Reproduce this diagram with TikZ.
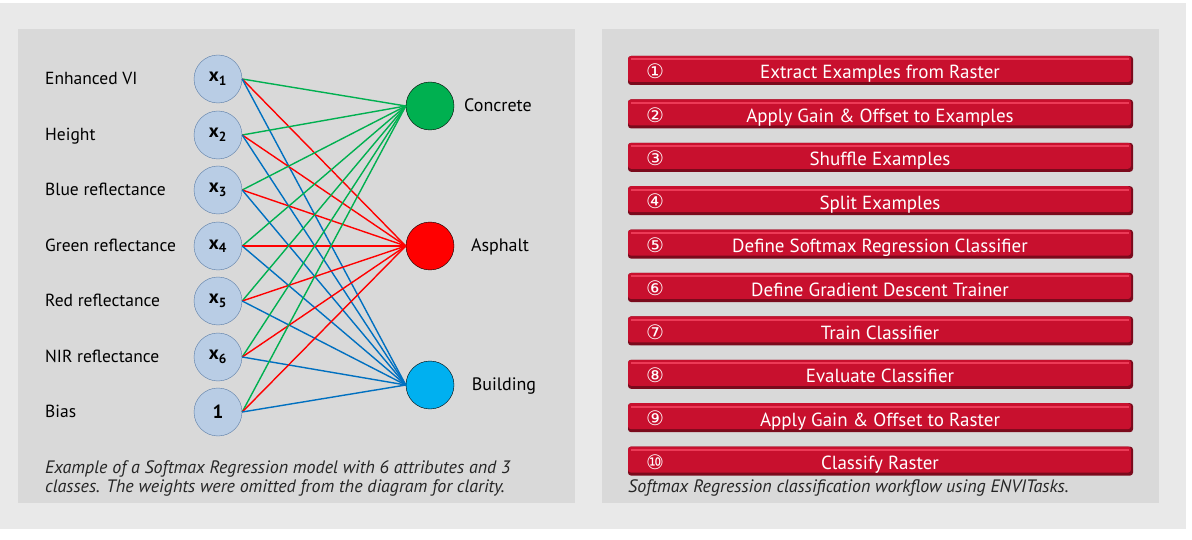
\documentclass[tikz,border=0pt]{standalone}
\usepackage{fontspec}
\setmainfont{PT Sans}
\newfontfamily\circfont{DejaVu Sans}
\usepackage{tikz}
\definecolor{outergray}{HTML}{E9E9E9}
\definecolor{panelgray}{HTML}{D9D9D9}
\definecolor{infill}{HTML}{B9CDE5}
\definecolor{inborder}{HTML}{5A7CA6}
\definecolor{concretegreen}{HTML}{00B050}
\definecolor{asphaltred}{HTML}{FF0000}
\definecolor{buildingcyan}{HTML}{00B0F0}
\definecolor{edgeblue}{HTML}{0070C0}
\definecolor{btnred}{HTML}{C8102E}
\definecolor{btndark}{HTML}{7A0A1C}
\definecolor{btnlight}{HTML}{EC3A57}

\begin{document}
\begin{tikzpicture}[x=1pt, y=-1pt,
    innode/.style={circle, draw=inborder, fill=infill, minimum size=48pt, inner sep=0pt,
        font=\fontsize{19}{22}\selectfont\bfseries},
    outnode/.style={circle, draw=black, minimum size=48pt, inner sep=0pt},
    featlab/.style={anchor=mid west, inner sep=0pt, font=\fontsize{17.5}{20}\selectfont},
    classlab/.style={anchor=mid, inner sep=0pt, font=\fontsize{18}{20}\selectfont},
    wire/.style={line width=1.4pt},
    btntext/.style={anchor=mid, text=white, inner sep=0pt, font=\fontsize{19}{22}\selectfont},
    btnnum/.style={text=white, inner sep=0pt, font=\circfont\fontsize{20}{22}\selectfont},
    caption/.style={inner sep=0pt, align=left, text=black!85, font=\fontsize{18}{19}\selectfont\itshape}]
    \useasboundingbox (0,0) rectangle (1192,540);
    % backgrounds
    \fill[white] (0,0) rectangle (1192,540);
    \fill[outergray] (0,3) rectangle (1186,529);
    \fill[panelgray] (18,29) rectangle (575,503);
    \fill[panelgray] (602,29) rectangle (1159,503);

    % network
    \foreach \i/\y in {1/79,2/135,3/190,4/246,5/301,6/357}
        \node[innode] (x\i) at (218,\y) {x\textsubscript{\i}};
    \node[innode] (x7) at (218,412) {1};
    \node[outnode, fill=concretegreen] (concrete) at (430,106) {};
    \node[outnode, fill=asphaltred] (asphalt) at (430,246) {};
    \node[outnode, fill=buildingcyan] (building) at (430,385) {};
    \foreach \i in {1,...,7} {
        \draw[wire, concretegreen] (x\i.east) -- (concrete.west);
        \draw[wire, asphaltred] (x\i.east) -- (asphalt.west);
        \draw[wire, edgeblue] (x\i.east) -- (building.west);
    }
    \foreach \i/\t in {1/Enhanced VI,2/Height,3/Blue reflectance,4/Green reflectance,
        5/Red reflectance,6/NIR reflectance,7/Bias}
        \node[featlab] (lab\i) at ([yshift=-3pt]45,0 |- x\i) {\t};
    \node[classlab] (labconcrete) at (498,109) {Concrete};
    \node[classlab] (labasphalt) at (500,249) {Asphalt};
    \node[classlab] (labbuilding) at (504,388) {Building};
    \node[caption, anchor=north west] (capleft) at (45,460)
        {Example of a Softmax Regression model with 6 attributes and 3\\
         classes. The weights were omitted from the diagram for clarity.};

    % workflow
    \foreach \n/\txt [count=\k] in {①/Extract Examples from Raster,
        ②/Apply Gain \& Offset to Examples, ③/Shuffle Examples, ④/Split Examples,
        ⑤/Define Softmax Regression Classifier, ⑥/Define Gradient Descent Trainer,
        ⑦/Train Classifier, ⑧/Evaluate Classifier, ⑨/Apply Gain \& Offset to Raster,
        ⑩/Classify Raster} {
        \pgfmathsetmacro\yc{70.5+43.4*(\k-1)}
        \fill[btndark, rounded corners=3pt] (628,\yc-14.5) rectangle (1133,\yc+14.5);
        \fill[btnred, rounded corners=3pt] (628,\yc-14.5) rectangle (1131,\yc+11.5);
        \fill[btnlight] (631,\yc-12) rectangle (1129,\yc-10);
        \node[btntext] (step\k) at (880,\yc+6) {\txt};
        \node[btnnum] (num\k) at (655,\yc+1) {\n};
    }
    \node[caption, anchor=west] (capright) at (628,488)
        {Softmax Regression classification workflow using ENVITasks.};
\end{tikzpicture}
\end{document}
